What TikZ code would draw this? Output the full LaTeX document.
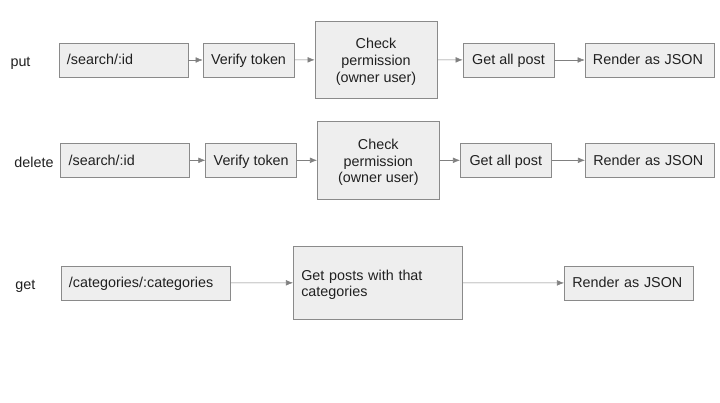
\documentclass[tikz,border=0pt]{standalone}
\usepackage{fontspec}
\setmainfont{Liberation Sans}
\usetikzlibrary{arrows.meta}
\definecolor{boxfill}{HTML}{EEEEEE}
\definecolor{boxline}{HTML}{8A8A8A}
\definecolor{arrowline}{HTML}{808080}
\definecolor{txt}{HTML}{202020}
\newcommand\hiStrut{\rule{0pt}{1.05em}}
\newcommand\loStrut{\rule[-0.25em]{0pt}{0pt}}

\begin{document}
\begin{tikzpicture}[x=0.025cm,y=-0.025cm,
  step box/.style={draw=boxline,fill=boxfill,text=txt,inner xsep=0.2cm,inner ysep=0pt,
    minimum height=0.85cm,font=\fontsize{10.2}{11.9}\selectfont},
  left box/.style={step box,align=left,text width=#1},
  mid box/.style={step box,align=center,minimum width=#1},
  one line/.style={text height=0.95em,text depth=0.25em},
  verb/.style={text=txt,one line,font=\fontsize{10.2}{11.9}\selectfont},
  flow/.style={draw=arrowline,-{Latex[length=5pt,width=4pt]}}]
\useasboundingbox (0,0) rectangle (720,402);

% put
\node[verb] at (20.5,62) (put) {put};
\node[left box=2.825cm,one line] at (123.5,60) (put1) {/search/:id};
\node[mid box=2.275cm,one line] at (248.5,60) (put2) {Verify token};
\node[mid box=3.05cm,minimum height=1.925cm] at (376,59.7) (put3) {\hiStrut Check\\permission\\(owner user)\loStrut};
\node[mid box=2.275cm,one line] at (508.5,60) (put4) {Get all post};
\node[left box=2.825cm,one line] at (649.5,60) (put5) {Render as JSON};

% delete
\node[verb] at (34,163) (del) {delete};
\node[left box=2.825cm,one line] at (125.2,160.3) (del1) {/search/:id};
\node[mid box=2.275cm,one line] at (251.2,160.3) (del2) {Verify token};
\node[mid box=3.05cm,minimum height=1.93cm] at (378.3,160.3) (del3) {\hiStrut Check\\permission\\(owner user)\loStrut};
\node[mid box=2.275cm,one line] at (505.8,160.3) (del4) {Get all post};
\node[left box=2.825cm,one line] at (649.8,160.3) (del5) {Render as JSON};

% get
\node[verb] at (25.3,285) (get) {get};
\node[left box=3.825cm,one line] at (145.5,283) (get1) {/categories/:categories};
\node[left box=3.835cm,minimum height=1.83cm] at (378,282.7) (get2) {\hiStrut Get posts with that\\categories\loStrut};
\node[left box=2.825cm,one line] at (628.8,283) (get3) {Render as JSON};

\draw[flow] (put1) -- (put2);
\draw[flow] (put2) -- (put3);
\draw[flow] (put3) -- (put4);
\draw[flow] (put4) -- (put5);
\draw[flow] (del1) -- (del2);
\draw[flow] (del2) -- (del3);
\draw[flow] (del3) -- (del4);
\draw[flow] (del4) -- (del5);
\draw[flow] (get1) -- (get2);
\draw[flow] (get2) -- (get3);
\end{tikzpicture}
\end{document}
